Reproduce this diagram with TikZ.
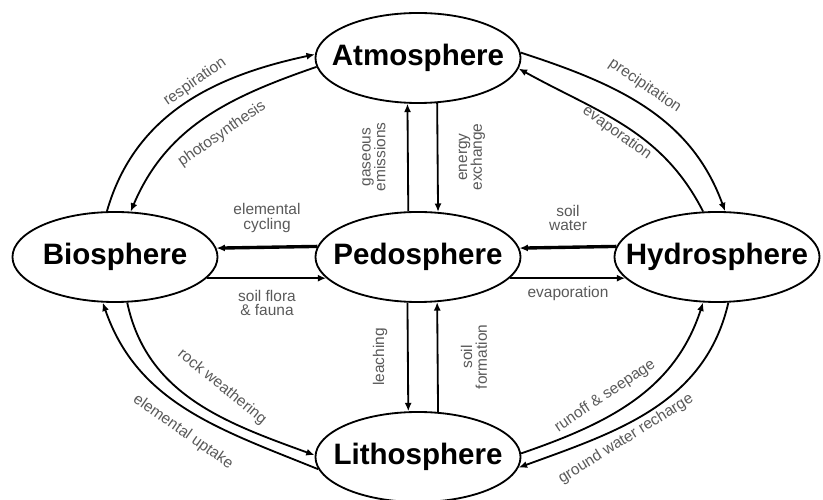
\documentclass[tikz,border=0pt]{standalone}
\usepackage{fontspec}
\setmainfont{Liberation Sans}
\usetikzlibrary{shapes.geometric,arrows.meta}

\begin{document}
\begin{tikzpicture}[x=0.025cm,y=0.025cm,
    sphere/.style={ellipse,draw,line width=1.3pt,minimum width=5.125cm,minimum height=2.25cm,
      inner xsep=-20pt,inner ysep=0pt,font=\fontsize{21}{24}\selectfont\bfseries},
    flow/.style={-{Latex[length=6pt,width=5pt]},line width=1.3pt},
    bigflow/.style={flow,line width=2.4pt},
    lab/.style={black!65,font=\fontsize{11}{10.5}\selectfont,align=center,inner sep=0pt}]
  \useasboundingbox (0,0) rectangle (823,500);

  \node[sphere] (atm) at (418,442) {Atmosphere};
  \node[sphere] (bio) at (115,243) {Biosphere};
  \node[sphere] (ped) at (418,243) {Pedosphere};
  \node[sphere] (hyd) at (717,243) {Hydrosphere};
  \node[sphere] (lit) at (418,43) {Lithosphere};

  % straight exchanges with the pedosphere
  \draw[flow] (ped.102.6) -- (atm.257.4);
  \draw[flow] (atm.293.25) -- (ped.66.75);
  \draw[flow] (ped.257.4) -- (lit.102.6);
  \draw[flow] (lit.66.75) -- (ped.293.25);
  \draw[bigflow] (ped.174.6) -- (bio.5.4);
  \draw[flow] (bio.-13.8) -- (ped.193.8);
  \draw[bigflow] (hyd.174.6) -- (ped.5.4);
  \draw[flow] (ped.-13.8) -- (hyd.193.8);

  % outer cycle
  \draw[flow] (bio.100) to[out=74,in=192] (atm.178);
  \draw[flow] (atm.185) to[out=199,in=67] (bio.71);
  \draw[flow] (atm.3) to[out=-18,in=110] (hyd.80);
  \draw[flow] (hyd.107) to[out=117,in=-29] (atm.-6);
  \draw[flow] (lit.187) to[out=158,in=-71] (bio.255);
  \draw[flow] (bio.285) to[out=-78,in=160] (lit.179);
  \draw[flow] (lit.2) to[out=19,in=-108] (hyd.253);
  \draw[flow] (hyd.284) to[out=-103,in=20] (lit.-6);

  \node[lab,rotate=35] (resp) at (195,418) {respiration};
  \node[lab,rotate=35] (photo) at (222,366) {photosynthesis};
  \node[lab,rotate=-34] (precip) at (645,414) {precipitation};
  \node[lab,rotate=-36] (evapup) at (617,367) {evaporation};
  \node[lab,rotate=-39] (rock) at (222,113) {rock weathering};
  \node[lab,rotate=-35] (uptake) at (183,68) {elemental uptake};
  \node[lab,rotate=34] (runoff) at (605,104) {runoff \& seepage};
  \node[lab,rotate=32] (recharge) at (626,61) {ground water recharge};

  \node[lab] (cycling) at (267,282) {elemental\\cycling};
  \node[lab] (flora) at (267,197) {soil flora\\\& fauna};
  \node[lab] (soilw) at (568,282) {soil\\water};
  \node[lab] (evaplo) at (568,206) {evaporation};
  \node[lab,rotate=90] (gas) at (374,343) {gaseous\\emissions};
  \node[lab,rotate=90] (energy) at (472,343) {energy\\exchange};
  \node[lab,rotate=90] (leach) at (380,143) {leaching};
  \node[lab,rotate=90] (soilf) at (474,143) {soil\\formation};
\end{tikzpicture}
\end{document}
